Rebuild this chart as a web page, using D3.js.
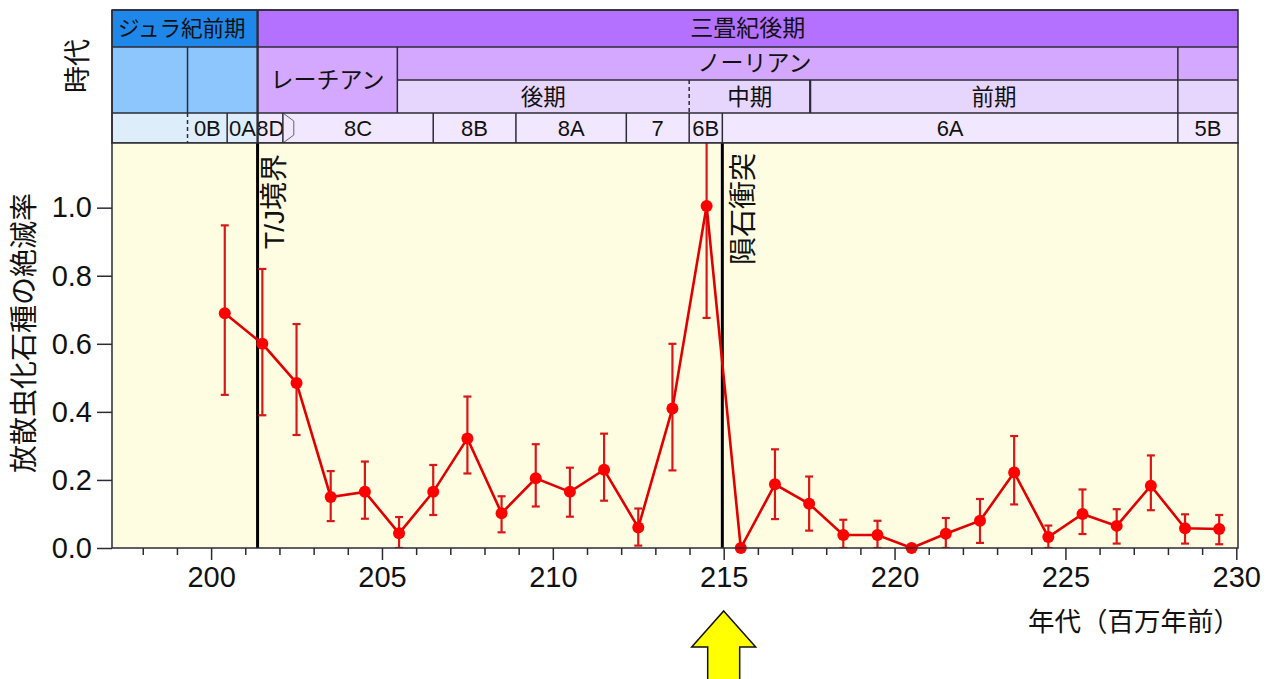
<!DOCTYPE html>
<html>
<head>
<meta charset="utf-8">
<script src="https://cdn.jsdelivr.net/npm/d3@7"></script>
<style>
  body { margin: 0; background: #fff; }
  svg { display: block; font-family: "Liberation Sans", "Noto Sans CJK JP", sans-serif; }
</style>
</head>
<body>
<svg id="chart" width="1277" height="679"></svg>
<script>
// extinction rate of radiolarian species, per ~1 Myr bin
var ages   = [200.4, 201.5, 202.5, 203.5, 204.5, 205.5, 206.5, 207.5, 208.5, 209.5,
              210.5, 211.5, 212.5, 213.5, 214.5, 215.5, 216.5, 217.5, 218.5, 219.5,
              220.5, 221.5, 222.5, 223.5, 224.5, 225.5, 226.5, 227.5, 228.5, 229.5];
var rates  = [0.69, 0.60, 0.485, 0.15, 0.165, 0.043, 0.165, 0.322, 0.102, 0.205,
              0.165, 0.23, 0.06, 0.41, 1.005, 0.0, 0.187, 0.13, 0.038, 0.038,
              0.0, 0.042, 0.08, 0.222, 0.032, 0.1, 0.065, 0.183, 0.058, 0.056];
var errHigh = [0.948, 0.82, 0.658, 0.226, 0.254, 0.091, 0.244, 0.445, 0.152, 0.305,
               0.236, 0.336, 0.116, 0.6, 1.4, null, 0.29, 0.21, 0.083, 0.08,
               null, 0.088, 0.144, 0.329, 0.066, 0.172, 0.114, 0.272, 0.099, 0.097];
var errLow  = [0.45, 0.39, 0.332, 0.079, 0.086, 0.0, 0.097, 0.219, 0.046, 0.122,
               0.092, 0.139, 0.007, 0.228, 0.676, null, 0.085, 0.051, 0.0, 0.0,
               null, 0.0, 0.015, 0.128, 0.0, 0.041, 0.013, 0.111, 0.013, 0.011];

var yTicks = [0, 0.2, 0.4, 0.6, 0.8, 1.0];
var xMajor = [200, 205, 210, 215, 220, 225, 230];

// events (Ma)
var tjBoundary = 201.36;
var impact = 214.96;

// time scale header (Ma)
var periods = [
  {name: "ジュラ紀前期", from: 197.1, to: 201.36, jur: true},
  {name: "三畳紀後期", from: 201.36, to: 230.05}
];
var stages = [
  {name: "", from: 197.1, to: 199.31, jur: true, whole: true},
  {name: "", from: 199.31, to: 201.36, jur: true, whole: true},
  {name: "レーチアン", from: 201.36, to: 205.45, whole: true},
  {name: "ノーリアン", from: 205.45, to: 228.29, at: 215.9},
  {name: "", from: 228.29, to: 230.05}
];
var substages = [
  {name: "後期", from: 205.45, to: 213.99},
  {name: "中期", from: 213.99, to: 217.53, dashed: true},
  {name: "前期", from: 217.53, to: 228.29, thick: true},
  {name: "", from: 228.29, to: 230.05}
];
var zones = [
  {name: "", from: 197.1, to: 199.31, jur: true},
  {name: "0B", from: 199.31, to: 200.47, jur: true, dashed: true},
  {name: "0A", from: 200.47, to: 201.36, jur: true},
  {name: "8D", from: 201.36, to: 202.1},
  {name: "8C", from: 202.1, to: 206.5},
  {name: "8B", from: 206.5, to: 208.92},
  {name: "8A", from: 208.92, to: 212.15},
  {name: "7", from: 212.15, to: 213.99},
  {name: "6B", from: 213.99, to: 214.96},
  {name: "6A", from: 214.96, to: 228.29},
  {name: "5B", from: 228.29, to: 230.05}
];

var svg = d3.select("#chart");
var pLeft = 112, pRight = 1238, pTop = 143, pBottom = 548;
var rowY = [10, 47, 80, 113, 143];
var lineCol = "#2b2b35";

var x = d3.scaleLinear().domain([197.1, 230.05]).range([pLeft, pRight]);
var y = d3.scaleLinear().domain([0, 1.19]).range([pBottom, pTop]);

// ---- header ----
var header = svg.append("g");

function drawRow(cells, y0, y1, fillJ, fillT, size, textY) {
    var g = header.append("g");
    cells.forEach(function (c) {
        var yb = c.whole ? rowY[3] : y1;
        g.append("rect")
            .attr("x", x(c.from)).attr("y", y0)
            .attr("width", x(c.to) - x(c.from)).attr("height", yb - y0)
            .attr("fill", c.jur ? fillJ : fillT);
        g.append("line")
            .attr("x1", x(c.from)).attr("x2", x(c.from))
            .attr("y1", y0).attr("y2", yb)
            .attr("stroke", lineCol)
            .attr("stroke-width", c.thick ? 2.2 : 1.5)
            .attr("stroke-dasharray", c.dashed ? "4,3" : null);
        if (c.name) {
            var cx = c.at != null ? x(c.at) : (x(c.from) + x(c.to)) / 2;
            g.append("text")
                .attr("x", cx)
                .attr("y", c.whole ? (y0 + rowY[3]) / 2 : textY)
                .attr("dy", "0.36em")
                .attr("text-anchor", "middle")
                .attr("font-size", size)
                .attr("fill", "#111")
                .text(c.name);
        }
    });
    return g;
}

drawRow(periods, rowY[0], rowY[1], "#1f87ea", "#b470ff", 23, 28);
// Jurassic label sits at the left of its cell
header.selectAll("text").filter(function () { return this.textContent === "ジュラ紀前期"; })
    .attr("text-anchor", "start").attr("x", pLeft + 6).attr("font-size", 21.5);
drawRow(stages, rowY[1], rowY[2], "#8dc6fd", "#d4a8ff", 23, 63);
drawRow(substages, rowY[2], rowY[3], "#e6d6fd", "#e6d6fd", 22.5, 97);
drawRow(zones, rowY[3], rowY[4], "#ddedfa", "#f1e7fe", 22, 128);

// the 8D / 8C boundary is drawn as a chevron
header.append("path")
    .attr("d", d3.line()([
        [x(202.1), rowY[3]], [x(202.42), rowY[3] + 8],
        [x(202.42), rowY[4] - 8], [x(202.1), rowY[4]]
    ]))
    .attr("fill", "none").attr("stroke", "#666").attr("stroke-width", 1);

// horizontal rules of the header
[[rowY[0], pLeft, pRight], [rowY[1], pLeft, pRight], [rowY[2], x(205.45), pRight], [rowY[3], pLeft, pRight]]
    .forEach(function (r) {
        header.append("line")
            .attr("x1", r[1]).attr("x2", r[2]).attr("y1", r[0]).attr("y2", r[0])
            .attr("stroke", lineCol).attr("stroke-width", 1.5);
    });
header.append("rect")
    .attr("x", pLeft).attr("y", rowY[0]).attr("width", pRight - pLeft).attr("height", rowY[4] - rowY[0])
    .attr("fill", "none").attr("stroke", lineCol).attr("stroke-width", 1.5);
header.append("line")
    .attr("x1", x(tjBoundary)).attr("x2", x(tjBoundary)).attr("y1", rowY[0]).attr("y2", rowY[4])
    .attr("stroke", lineCol).attr("stroke-width", 2.2);

header.append("text")
    .attr("transform", "translate(77,66) rotate(-90)")
    .attr("text-anchor", "middle").attr("dy", "0.36em")
    .attr("font-size", 27).attr("fill", "#111")
    .text("時代");

// ---- plot ----
svg.append("rect")
    .attr("x", pLeft).attr("y", pTop).attr("width", pRight - pLeft).attr("height", pBottom - pTop)
    .attr("fill", "#fffde1");

svg.append("clipPath").attr("id", "clip")
    .append("rect").attr("x", pLeft).attr("y", pTop).attr("width", pRight - pLeft).attr("height", pBottom - pTop);

// event lines
[tjBoundary, impact].forEach(function (d) {
    svg.append("line")
        .attr("x1", x(d)).attr("x2", x(d)).attr("y1", pTop).attr("y2", pBottom)
        .attr("stroke", "#000").attr("stroke-width", 3);
});

var red = "#e00000";
var marks = svg.append("g").attr("clip-path", "url(#clip)");
var pts = ages.map(function (a, i) { return {age: a, v: rates[i], hi: errHigh[i], lo: errLow[i]}; });

// error bars
var bars = marks.selectAll(".err")
    .data(pts.filter(function (d) { return d.hi != null; }))
    .enter().append("g").attr("class", "err")
    .attr("stroke", "#d81818").attr("stroke-width", 2.2);
bars.append("line")
    .attr("x1", function (d) { return x(d.age); }).attr("x2", function (d) { return x(d.age); })
    .attr("y1", function (d) { return y(d.hi); }).attr("y2", function (d) { return y(d.lo); });
bars.append("line")
    .attr("x1", function (d) { return x(d.age) - 4; }).attr("x2", function (d) { return x(d.age) + 4; })
    .attr("y1", function (d) { return y(d.hi); }).attr("y2", function (d) { return y(d.hi); });
bars.append("line")
    .attr("x1", function (d) { return x(d.age) - 4; }).attr("x2", function (d) { return x(d.age) + 4; })
    .attr("y1", function (d) { return y(d.lo); }).attr("y2", function (d) { return y(d.lo); });

marks.append("path")
    .datum(pts)
    .attr("d", d3.line().x(function (d) { return x(d.age); }).y(function (d) { return y(d.v); }))
    .attr("fill", "none").attr("stroke", red).attr("stroke-width", 2.6);

svg.append("g").selectAll("circle")
    .data(pts)
    .enter().append("circle")
    .attr("cx", function (d) { return x(d.age); })
    .attr("cy", function (d) { return y(d.v); })
    .attr("r", 6)
    .attr("fill", "#ff0000");

svg.append("rect")
    .attr("x", pLeft).attr("y", pTop).attr("width", pRight - pLeft).attr("height", pBottom - pTop)
    .attr("fill", "none").attr("stroke", lineCol).attr("stroke-width", 1.5);

// event labels
svg.append("text")
    .attr("transform", "translate(" + (x(tjBoundary) + 26) + ",154) rotate(-90)")
    .attr("text-anchor", "end")
    .attr("font-size", 28).attr("fill", "#111")
    .text("T/J境界");
svg.append("text")
    .attr("transform", "translate(" + (x(impact) + 31) + ",153) rotate(-90)")
    .attr("text-anchor", "end")
    .attr("font-size", 28).attr("fill", "#111")
    .text("隕石衝突");

// ---- axes ----
var yAxis = svg.append("g")
    .attr("transform", "translate(" + pLeft + ",0)")
    .call(d3.axisLeft(y).tickValues(yTicks).tickSize(15).tickPadding(5).tickFormat(d3.format(".1f")));
yAxis.select(".domain").remove();
yAxis.selectAll("line").attr("stroke", lineCol).attr("stroke-width", 1.5);
yAxis.selectAll("text").attr("font-size", 29).attr("fill", "#111")
    .attr("font-family", "Liberation Sans, sans-serif");

var xMinor = d3.range(198, 231).filter(function (d) { return xMajor.indexOf(d) < 0; });
var xMinorAxis = svg.append("g")
    .attr("transform", "translate(0," + pBottom + ")")
    .call(d3.axisBottom(x).tickValues(xMinor).tickSize(7).tickFormat(""));
xMinorAxis.select(".domain").remove();
xMinorAxis.selectAll("line").attr("stroke", lineCol).attr("stroke-width", 1.5);

var xAxis = svg.append("g")
    .attr("transform", "translate(0," + pBottom + ")")
    .call(d3.axisBottom(x).tickValues(xMajor).tickSize(12).tickPadding(6));
xAxis.select(".domain").remove();
xAxis.selectAll("line").attr("stroke", lineCol).attr("stroke-width", 1.5);
xAxis.selectAll("text").attr("font-size", 29).attr("fill", "#111")
    .attr("font-family", "Liberation Sans, sans-serif");

svg.append("text")
    .attr("transform", "translate(24,333) rotate(-90)")
    .attr("text-anchor", "middle").attr("dy", "0.36em")
    .attr("font-size", 28).attr("fill", "#111")
    .text("放散虫化石種の絶滅率");

svg.append("text")
    .attr("x", 1240).attr("y", 621).attr("dy", "0.36em")
    .attr("text-anchor", "end")
    .attr("font-size", 26.5).attr("fill", "#111")
    .text("年代（百万年前）");

// yellow arrow pointing at the impact
var ax = x(215);
svg.append("path")
    .attr("d", d3.line()([
        [ax, 611], [ax + 32, 647], [ax + 16, 647], [ax + 16, 685],
        [ax - 16, 685], [ax - 16, 647], [ax - 32, 647]
    ]) + "Z")
    .attr("fill", "#ffff00").attr("stroke", "#111").attr("stroke-width", 1.5);
</script>
</body>
</html>
